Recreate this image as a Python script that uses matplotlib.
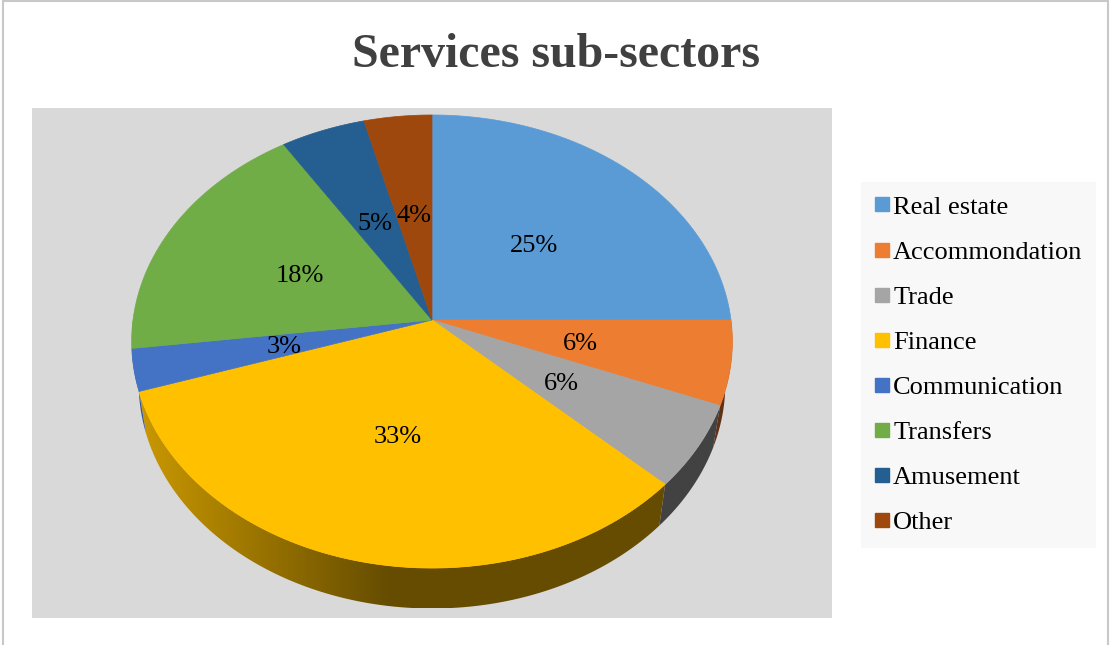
import numpy as np
import matplotlib
matplotlib.use('Agg')
import matplotlib.pyplot as plt
from matplotlib.patches import Polygon, Rectangle
from matplotlib.lines import Line2D
from matplotlib.colors import to_rgb

sectors = ['Real estate', 'Accommondation', 'Trade', 'Finance',
           'Communication', 'Transfers', 'Amusement', 'Other']
shares = [25, 6, 6, 33, 3, 18, 5, 4]
colors = ['#5B9BD5', '#ED7D31', '#A5A5A5', '#FFC000',
          '#4472C4', '#70AD47', '#255E91', '#9E480E']

SERIF = 'Liberation Serif'

# camera looking down at a unit-radius cylinder (pixel units on screen)
RX, RY, K, THICK = 299.0, 224.5, 0.095, 0.22
ELEV = np.arcsin(RY / RX)
DIST = np.cos(ELEV) / K
FOCAL = RX * DIST


def project(x, y, z=0.0):
    depth = DIST + y * np.cos(ELEV) - z * np.sin(ELEV)
    return FOCAL * x / depth, FOCAL * (y * np.sin(ELEV) + z * np.cos(ELEV)) / depth


def shade(x):
    # wall lighting: bright on the left, dark towards the right
    return 0.4 + 0.4 * np.clip((-x / RX - 0.15) / 0.85, 0, 1)


fig = plt.figure(figsize=(11.1, 6.45), dpi=100)
fig.patches.append(Rectangle((2.5 / 1110, -0.1), 1105 / 1110, 1.1 - 1 / 645,
                             transform=fig.transFigure, fill=False,
                             edgecolor='#C8C8C8', lw=1.5))

ax = fig.add_axes([32 / 1110, 27 / 645, 800 / 1110, 510 / 645])
ax.set_facecolor('#D9D9D9')
ax.set_xticks([])
ax.set_yticks([])
for s in ax.spines.values():
    s.set_visible(False)

fractions = np.array(shares) / sum(shares)
ends = 90 - 360 * np.cumsum(fractions)
starts = ends + 360 * fractions

# front wall of the cylinder, one gradient-filled piece per slice
for a0, a1, c in zip(starts, ends, colors):
    lo, hi = max(a1, -180), min(a0, 0)
    if lo >= hi:
        continue
    th = np.radians(np.linspace(hi, lo, max(3, int(hi - lo) * 2 + 2)))
    top = [project(np.cos(t), np.sin(t)) for t in th]
    bot = [project(np.cos(t), np.sin(t), -THICK) for t in th[::-1]]
    wall = Polygon(top + bot, closed=True, fc='none', ec='none')
    ax.add_patch(wall)
    xs = np.array([p[0] for p in top + bot])
    ys = np.array([p[1] for p in top + bot])
    gx = np.linspace(xs.min(), xs.max(), 200)
    grad = np.array(to_rgb(c))[None, None, :] * shade(gx)[None, :, None]
    im = ax.imshow(grad, extent=(xs.min(), xs.max(), ys.min(), ys.max()),
                   aspect='auto', interpolation='bilinear', zorder=1)
    im.set_clip_path(wall)

# top faces and percentage labels
for a0, a1, c, p in zip(starts, ends, colors, shares):
    th = np.radians(np.linspace(a0, a1, max(3, int(abs(a0 - a1)) + 2)))
    pts = [project(0, 0)] + [project(np.cos(t), np.sin(t)) for t in th]
    ax.add_patch(Polygon(pts, closed=True, fc=c, ec=c, lw=0.5, zorder=2))
    tm = np.radians((a0 + a1) / 2)
    x, y = project(0.5 * np.cos(tm), 0.5 * np.sin(tm))
    ax.text(x, y, f'{p}%', ha='center', va='center_baseline', fontsize=19,
            family=SERIF, color='black', zorder=3)

ax.set_xlim(-400, 400)
ax.set_ylim(-298, 212)

fig.text(556 / 1110, 1 - 67 / 645, 'Services sub-sectors', ha='center',
         va='baseline', fontsize=34.5, fontweight='bold', family=SERIF,
         color='#404040')

handles = [Line2D([], [], ls='none', marker='s', ms=9.5, mfc=c, mec=c)
           for c in colors]
fig.legend(handles, sectors, loc='upper left',
           bbox_to_anchor=(861 / 1110, 1 - 182 / 645),
           bbox_transform=fig.transFigure, frameon=True, facecolor='#F8F8F8',
           edgecolor='none', framealpha=1, fancybox=False,
           prop={'family': SERIF, 'size': 19}, borderpad=0.5,
           borderaxespad=0, handlelength=0.6, handletextpad=0.12,
           labelspacing=0.82)

fig.savefig('out.png', dpi=100, facecolor='white')
